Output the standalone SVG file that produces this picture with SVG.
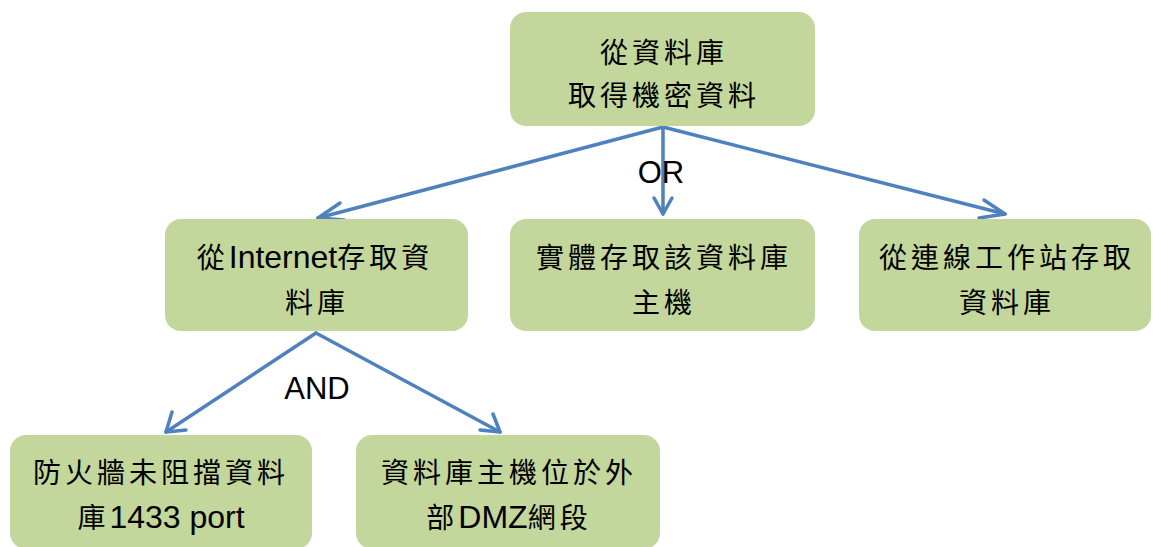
<svg xmlns="http://www.w3.org/2000/svg" width="1153" height="547" viewBox="0 0 1153 547">
<style>
.box{fill:#C3D69B;}
.t{font-family:"Liberation Sans","Noto Sans CJK TC",sans-serif;font-size:28px;fill:#000;text-anchor:middle;letter-spacing:4px;}
.lat{font-size:32px;letter-spacing:0;}
.lbl{font-family:"Liberation Sans",sans-serif;font-size:31px;fill:#000;text-anchor:middle;}
.c{stroke:#4F81BD;stroke-width:3.5;fill:none;stroke-linecap:round;stroke-linejoin:round;}
</style>
<rect width="1153" height="547" fill="#fff"/>
<g id="connectors">
<path class="c" d="M663,127 L318,218"/><path class="c" d="M340,203 L318,218 L344,220"/>
<path class="c" d="M663,127 L663,214"/><path class="c" d="M654,198 L663,214 L672,198"/>
<path class="c" d="M663,127 L1005,214"/><path class="c" d="M979,218 L1005,214 L984,200"/>
<path class="c" d="M316,333 L166,432"/><path class="c" d="M172,412 L166,432 L186,430"/>
<path class="c" d="M316,333 L500,432"/><path class="c" d="M480,430 L500,432 L493,414"/>
<text class="lbl" x="661" y="183">OR</text>
<text class="lbl" x="317" y="399">AND</text>
</g>
<g id="n1"><rect class="box" x="510" y="12" width="305" height="114" rx="16"/>
<text class="t" x="664" y="63">從資料庫</text><text class="t" x="664" y="106">取得機密資料</text></g>
<g id="n2"><rect class="box" x="165" y="219" width="303" height="112" rx="16"/>
<text class="t" x="315" y="268">從<tspan class="lat">Internet</tspan>存取資</text><text class="t" x="317" y="313">料庫</text></g>
<g id="n3"><rect class="box" x="510" y="219" width="305" height="112" rx="16"/>
<text class="t" x="664" y="268">實體存取該資料庫</text><text class="t" x="664" y="313">主機</text></g>
<g id="n4"><rect class="box" x="859" y="219" width="292" height="112" rx="16"/>
<text class="t" x="1007" y="268">從連線工作站存取</text><text class="t" x="1007" y="313">資料庫</text></g>
<g id="n5"><rect class="box" x="10" y="435" width="302" height="114" rx="16"/>
<text class="t" x="161" y="483">防火牆未阻擋資料</text><text class="t" x="161" y="528">庫<tspan class="lat">1433 port</tspan></text></g>
<g id="n6"><rect class="box" x="356" y="435" width="304" height="114" rx="16"/>
<text class="t" x="509" y="483">資料庫主機位於外</text><text class="t" x="509" y="528">部<tspan class="lat">DMZ</tspan>網段</text></g>
</svg>
